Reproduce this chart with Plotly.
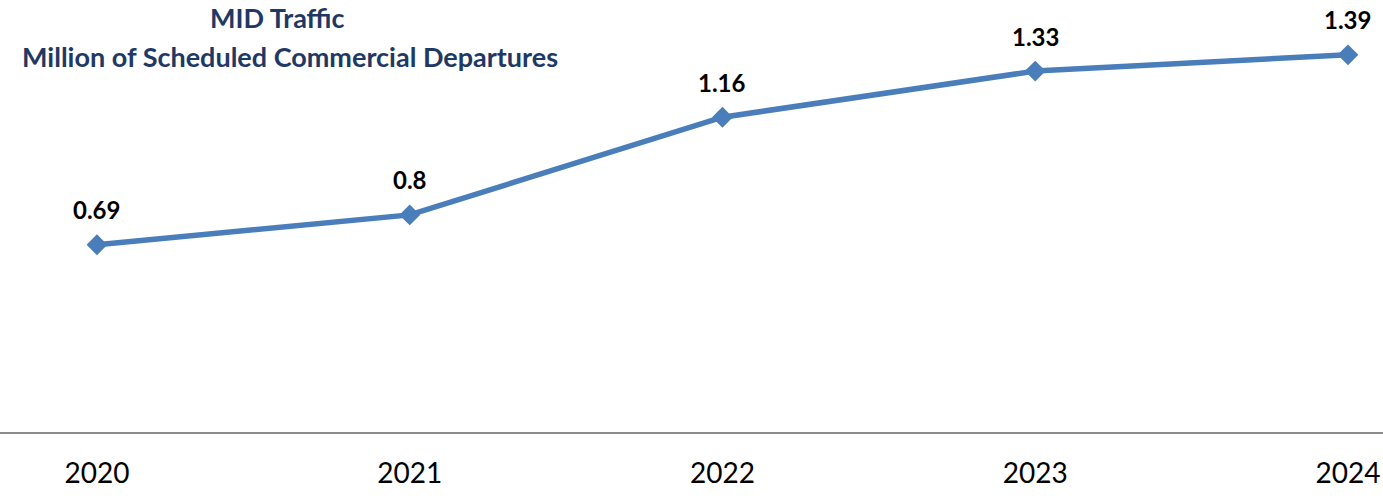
import plotly.graph_objects as go

# MID traffic, million scheduled commercial departures per year
years = ["2020", "2021", "2022", "2023", "2024"]
departures = [0.69, 0.8, 1.16, 1.33, 1.39]

line_color = "#4A7EBB"
title_color = "#1F3864"

fig = go.Figure()
fig.add_trace(go.Scatter(
    x=years,
    y=departures,
    mode="lines+markers",
    line=dict(color=line_color, width=5.5),
    marker=dict(symbol="diamond", size=16, color=line_color),
    hoverinfo="x+y",
    showlegend=False,
))

# value labels above each point (category index used as x position)
for i, v in enumerate(departures):
    fig.add_annotation(
        x=i, y=v, text=f"{v:g}", showarrow=False,
        yshift=35, xanchor="center", yanchor="middle",
        font=dict(family="Lato", size=24, color="#000000", weight="bold"),
    )

# two-line chart title
fig.add_annotation(
    xref="paper", yref="paper", x=277 / 1383, y=1 - 18 / 432,
    text="MID Traffic", showarrow=False, xanchor="center", yanchor="middle",
    font=dict(family="Lato", size=27, color=title_color, weight="bold"),
)
fig.add_annotation(
    xref="paper", yref="paper", x=290 / 1383, y=1 - 57 / 432,
    text="Million of Scheduled Commercial Departures", showarrow=False,
    xanchor="center", yanchor="middle",
    font=dict(family="Lato", size=27, color=title_color, weight="bold"),
)

fig.update_layout(
    width=1383, height=498,
    margin=dict(l=0, r=0, t=0, b=66),
    paper_bgcolor="white", plot_bgcolor="white",
    xaxis=dict(
        type="category", range=[-0.31, 4.112],
        showgrid=False, zeroline=False,
        showline=True, linecolor="#8C8C8C", linewidth=2,
        ticks="", tickfont=dict(family="Lato", size=28, color="#000000"),
        ticklabelstandoff=15,
    ),
    yaxis=dict(
        range=[0, 1.592], visible=False, showgrid=False, zeroline=False,
    ),
)

fig.write_html("out.html")
